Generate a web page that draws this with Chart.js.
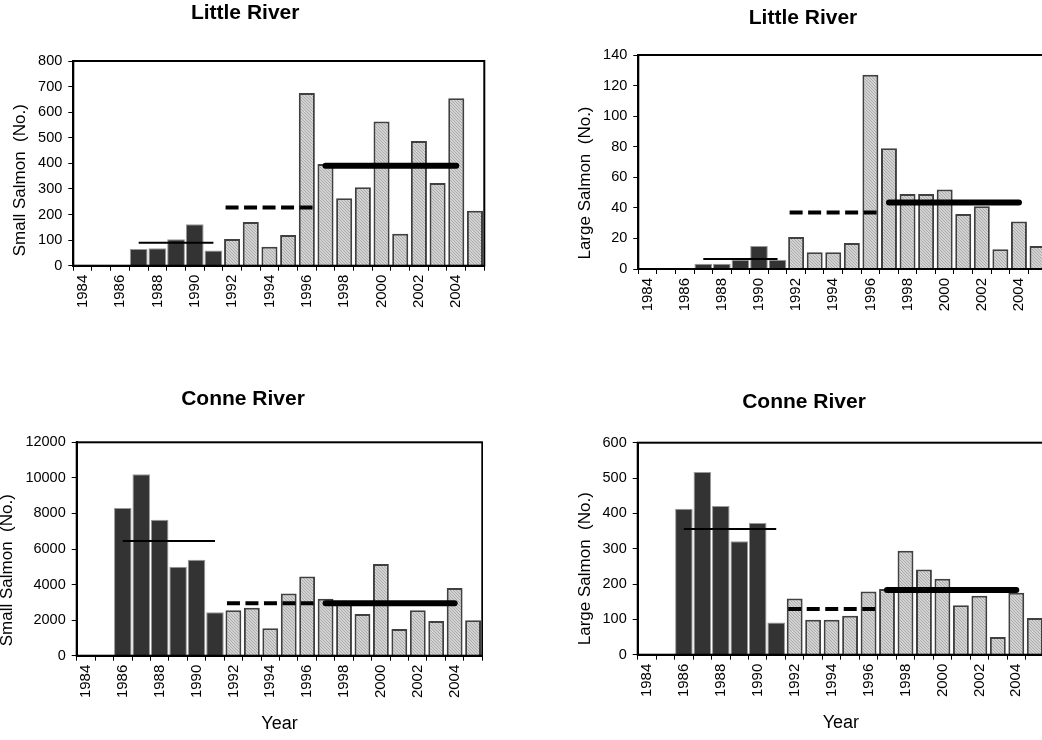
<!DOCTYPE html>
<html>
<head>
<meta charset="utf-8">
<script src="https://cdn.jsdelivr.net/npm/chart.js@4.4.1/dist/chart.umd.min.js"></script>
<style>
html, body { margin: 0; padding: 0; background: #fff; }
#page { position: relative; width: 1042px; height: 740px; overflow: hidden; }
canvas { position: absolute; }
</style>
</head>
<body>
<div id="page">
  <canvas id="littleSmall"></canvas>
  <canvas id="littleLarge"></canvas>
  <canvas id="conneSmall"></canvas>
  <canvas id="conneLarge"></canvas>
</div>
<script>
// categories
var years = ['1984', '1985', '1986', '1987', '1988', '1989', '1990', '1991', '1992', '1993', '1994',
             '1995', '1996', '1997', '1998', '1999', '2000', '2001', '2002', '2003', '2004', '2005'];
var firstLightYear = 1992;

// counts
var littleSmall = [0, 0, 0, 65, 68, 103, 162, 59, 104, 171, 74, 120, 675, 397, 264, 307, 564, 125, 487, 323, 654, 215];
var littleLarge = [0, 0, 0, 3.5, 3.5, 6, 15, 6, 21, 11, 11, 17, 127, 79, 49, 49, 52, 36, 41, 13, 31, 15];
var conneSmall = [0, 0, 8300, 10200, 7650, 5000, 5400, 2450, 2550, 2700, 1550, 3500, 4450, 3200, 2950, 2350, 5150, 1500, 2550, 1950, 3800, 2000];
var conneLarge = [0, 0, 413, 517, 421, 321, 373, 91, 159, 99, 99, 110, 179, 186, 294, 241, 215, 140, 167, 50, 175, 104];

// period means: [early, middle (dashed), late (thick)]
var littleSmallMeans = [90, 227, 391];
var littleLargeMeans = [6.5, 37, 43.5];
var conneSmallMeans = [6450, 2950, 2950];
var conneLargeMeans = [356, 129, 183];

// year spans of the mean lines
var littleSpans = [[1987, 1991], [1991.65, 1996.35], [1997, 2004]];
var conneSpans = [[1986, 1991], [1991.65, 1996.35], [1997, 2004]];

Chart.defaults.font.family = "'Liberation Sans', Arial, sans-serif";
Chart.defaults.color = '#000';

function hatch() {
  var c = document.createElement('canvas');
  c.width = 3; c.height = 3;
  var g = c.getContext('2d');
  g.fillStyle = '#d2d2d2';
  g.fillRect(0, 0, 3, 3);
  g.fillStyle = '#acacac';
  for (var i = 0; i < 3; i++) g.fillRect(i, i, 1, 1);
  return g.createPattern(c, 'repeat');
}

var framePlugin = {
  id: 'frame',
  afterDatasetsDraw: function (chart) {
    var a = chart.chartArea, ctx = chart.ctx;
    ctx.save();
    ctx.strokeStyle = '#000';
    ctx.lineWidth = 2;
    ctx.strokeRect(a.left, a.top, a.right - a.left, a.bottom - a.top);
    ctx.restore();
  }
};

function meanLine(value, span, style) {
  var ds = {
    type: 'line',
    xAxisID: 'xm',
    data: [{ x: span[0], y: value }, { x: span[1], y: value }],
    borderColor: '#000',
    pointRadius: 0,
    order: 0
  };
  if (style === 'thin') { ds.borderWidth = 2; }
  if (style === 'dash') { ds.borderWidth = 4; ds.borderDash = [13, 5.5]; }
  if (style === 'thick') { ds.borderWidth = 6; ds.borderCapStyle = 'round'; }
  return ds;
}

function panel(id, p) {
  var canvas = document.getElementById(id);
  canvas.width = p.w; canvas.height = p.h;
  canvas.style.left = p.left + 'px';
  canvas.style.top = p.top + 'px';

  var dark = p.values.map(function (v, i) { return +years[i] < firstLightYear ? v : null; });
  var light = p.values.map(function (v, i) { return +years[i] >= firstLightYear ? v : null; });

  new Chart(canvas.getContext('2d'), {
    type: 'bar',
    data: {
      labels: years,
      datasets: [
        meanLine(p.means[0], p.spans[0], 'thin'),
        meanLine(p.means[1], p.spans[1], 'dash'),
        meanLine(p.means[2], p.spans[2], 'thick'),
        {
          data: dark, backgroundColor: '#333333', borderColor: '#999', borderWidth: 1,
          barPercentage: 0.95, categoryPercentage: 1, grouped: false, order: 1
        },
        {
          data: light, backgroundColor: hatch(), borderColor: '#404040', borderWidth: 2,
          barPercentage: 0.86, categoryPercentage: 1, grouped: false, order: 1
        }
      ]
    },
    plugins: [framePlugin],
    options: {
      responsive: false,
      animation: false,
      devicePixelRatio: 1,
      layout: { padding: { left: p.pl, right: p.pr, top: 0, bottom: 0 } },
      plugins: {
        legend: { display: false },
        tooltip: { enabled: false },
        title: {
          display: true, text: p.title, color: '#000',
          font: { size: 21, weight: 'bold' },
          padding: { top: p.tTop, bottom: p.tBot }
        }
      },
      scales: {
        x: {
          offset: true,
          grid: { drawOnChartArea: false, drawTicks: true, tickLength: 5, color: '#000', offset: true },
          border: { display: true, color: '#000', width: 2 },
          ticks: {
            autoSkip: false, minRotation: 90, maxRotation: 90, padding: 4,
            font: { size: 15 }, color: '#000',
            callback: function (v, i) { return i % 2 === 0 ? years[i] : ''; }
          },
          title: {
            display: !!p.yearPad, text: 'Year', color: '#000',
            font: { size: 18 }, padding: { top: 0, bottom: p.yearPad || 0 }
          },
          afterFit: function (s) { s.height = p.xh; s.paddingLeft = 0; s.paddingRight = 0; }
        },
        xm: {
          type: 'linear', position: 'top', min: 1983.5, max: 2005.5, offset: false,
          grid: { display: false, drawTicks: false },
          border: { display: false },
          ticks: { display: false },
          afterFit: function (s) { s.height = 0; s.paddingLeft = 0; s.paddingRight = 0; }
        },
        y: {
          min: 0, max: p.yMax,
          grid: { drawOnChartArea: false, drawTicks: true, tickLength: 5, color: '#000' },
          border: { display: true, color: '#000', width: 2 },
          ticks: {
            stepSize: p.yStep, padding: 6, font: { size: 14.5 }, color: '#000',
            callback: function (v) { return String(v); }
          },
          title: {
            display: true, text: p.yTitle, align: 'start', color: '#000',
            font: { size: 17 }, padding: { top: p.ytPad, bottom: 0 }
          },
          afterFit: function (s) { s.width = p.yw; s.paddingTop = 0; s.paddingBottom = 0; }
        }
      }
    }
  });
}

panel('littleSmall', {
  title: 'Little River', yTitle: '  Small Salmon  (No.)', values: littleSmall,
  means: littleSmallMeans, spans: littleSpans, yMax: 800, yStep: 100,
  left: 0, top: 0, w: 490, h: 330, pl: 6, pr: 5.7, yw: 67.3, xh: 64.3, tTop: 0.4, tBot: 35.4, ytPad: 3.8
});
panel('littleLarge', {
  title: 'Little River', yTitle: '  Large Salmon  (No.)', values: littleLarge,
  means: littleLargeMeans, spans: littleSpans, yMax: 140, yStep: 20,
  left: 540, top: 0, w: 507, h: 330, pl: 19.2, pr: 0.2, yw: 79.1, xh: 61, tTop: 5.4, tBot: 24.4, ytPad: 15.6
});
panel('conneSmall', {
  title: 'Conne River', yTitle: '  Small Salmon  (No.)', values: conneSmall,
  means: conneSmallMeans, spans: conneSpans, yMax: 12000, yStep: 2000,
  left: 0, top: 380, w: 483, h: 360, pl: 3.7, pr: 0.7, yw: 73, xh: 84.3, tTop: 6.4, tBot: 30.7, ytPad: -6.9, yearPad: 5.2
});
panel('conneLarge', {
  title: 'Conne River', yTitle: '  Large Salmon  (No.)', values: conneLarge,
  means: conneLargeMeans, spans: conneSpans, yMax: 600, yStep: 100,
  left: 540, top: 380, w: 504, h: 360, pl: 24, pr: 0, yw: 73.7, xh: 85.3, tTop: 9.4, tBot: 28.1, ytPad: 10.8, yearPad: 6.2
});
</script>
</body>
</html>
